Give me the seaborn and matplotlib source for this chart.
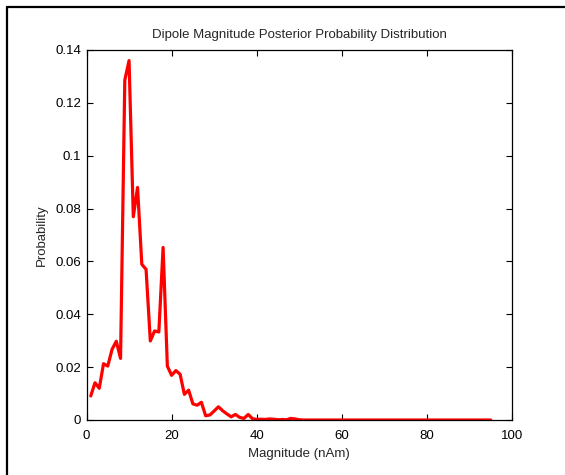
import matplotlib
matplotlib.use("Agg")
import matplotlib.pyplot as plt
import seaborn as sns
import pandas as pd
from matplotlib.lines import Line2D
from matplotlib.ticker import FuncFormatter

magnitude = list(range(1, 96))
probability_head = [
    0.0091, 0.0141, 0.0120, 0.0213, 0.0204, 0.0267, 0.0298, 0.0233, 0.1286, 0.1360,
    0.0769, 0.0880, 0.0589, 0.0570, 0.0299, 0.0337, 0.0333, 0.0653, 0.0204, 0.0169,
    0.0187, 0.0173, 0.0097, 0.0113, 0.0061, 0.0056, 0.0067, 0.0016, 0.0019, 0.0034,
    0.0050, 0.0035, 0.0023, 0.0012, 0.0021, 0.0010, 0.0006, 0.0021, 0.0005, 0.0002,
    0.0003, 0.0002, 0.0004, 0.0003, 0.0001, 0.0002, 0.0001, 0.0006, 0.0004, 0.0001,
]
probability = probability_head + [0.0] * (len(magnitude) - len(probability_head))

x_ticks = [0, 20, 40, 60, 80, 100]
y_ticks = [0, 0.02, 0.04, 0.06, 0.08, 0.1, 0.12, 0.14]

sns.set_theme(style="white")
plt.rcParams['font.family'] = ['Liberation Sans', 'DejaVu Sans']

df = pd.DataFrame({"Magnitude": magnitude, "Probability": probability})

fig = plt.figure(figsize=(5.65, 4.75), dpi=100)
ax = fig.add_axes([86.5 / 565, 55 / 475, (512 - 86.5) / 565, (420 - 50) / 475])
sns.lineplot(data=df, x="Magnitude", y="Probability", ax=ax, color="#ff0000", linewidth=2.3)

ax.set_xlim(0, 100)
ax.set_ylim(0, 0.14)
ax.set_xticks(x_ticks)
ax.set_yticks(y_ticks)
ax.yaxis.set_major_formatter(FuncFormatter(lambda v, p: "0" if v == 0 else f"{v:g}"))
ax.tick_params(direction="in", length=4, width=0.8, top=True, right=True,
               bottom=True, left=True, labelsize=9.5, colors="black")
ax.tick_params(axis="x", pad=7)
ax.tick_params(axis="y", pad=4)
for s in ax.spines.values():
    s.set_color("black")
    s.set_linewidth(0.9)
ax.set_xlabel("Magnitude (nAm)", fontsize=9.5, labelpad=4.5)
ax.set_ylabel("Probability", fontsize=9.5, labelpad=5)
ax.set_title("Dipole Magnitude Posterior Probability Distribution", fontsize=9.5, pad=8.5)

fig.add_artist(Line2D([6.5 / 565, 6.5 / 565], [0, 1 - 7 / 475], transform=fig.transFigure,
                      color="black", linewidth=1.6))
fig.add_artist(Line2D([6.5 / 565, 1], [1 - 7 / 475, 1 - 7 / 475], transform=fig.transFigure,
                      color="black", linewidth=1.6))

fig.savefig("out.png", dpi=100)
